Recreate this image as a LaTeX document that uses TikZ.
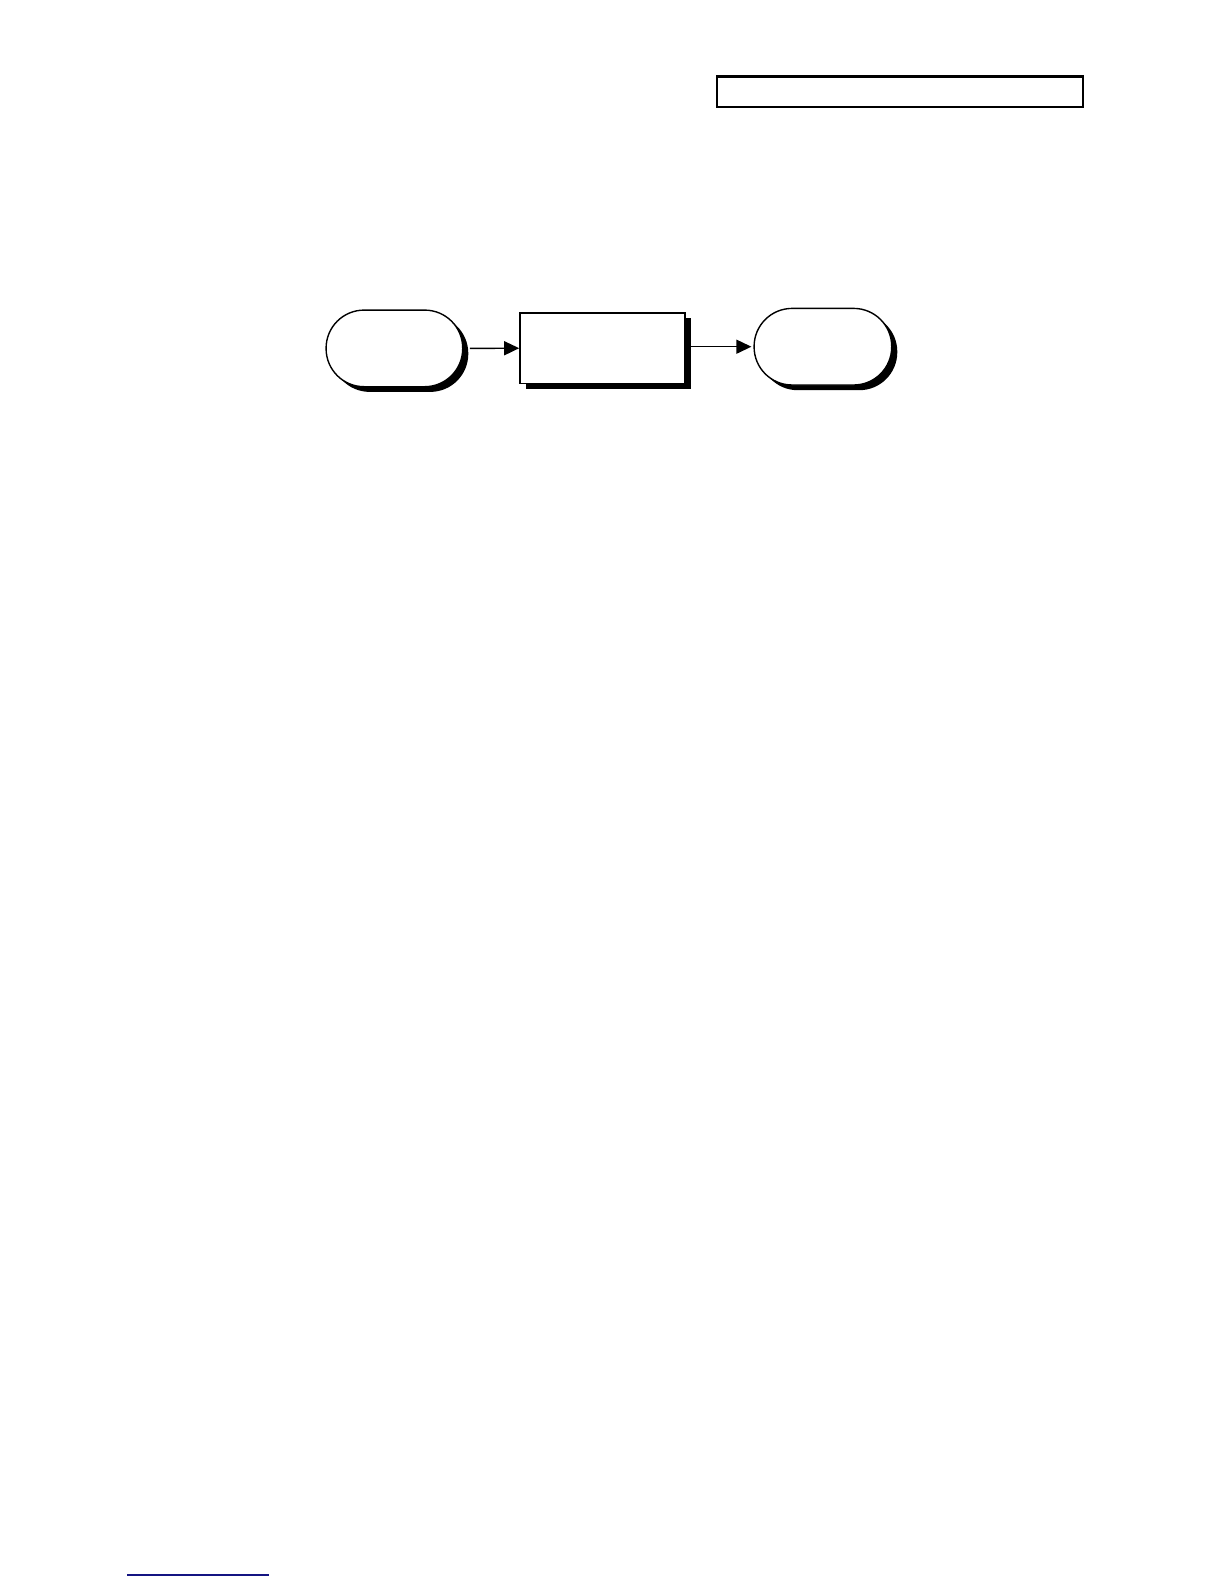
\documentclass[tikz,border=0pt]{standalone}
\usetikzlibrary{shadows,arrows.meta}
\definecolor{navy}{RGB}{20,20,130}
\tikzset{
  shd/.style={drop shadow={shadow xshift=2.8pt,shadow yshift=-2.6pt,fill=black,opacity=1}},
  term/.style={draw,line width=0.7pt,fill=white,rounded corners=19pt,shd,inner sep=0pt},
  procbox/.style={draw,line width=0.8pt,fill=white,shd,inner sep=0pt},
  conn/.style={line width=0.7pt,-{Triangle[length=7.5pt,width=7pt]}}
}
\begin{document}
\begin{tikzpicture}[x=0.5pt,y=-0.5pt]
\useasboundingbox (0,0) rectangle (1224,1584);
\node[draw,line width=1.4pt,minimum width=183pt,minimum height=15.2pt,inner sep=0pt] (top) at (900,91.8) {};
\node[term,minimum width=68.3pt,minimum height=38.3pt] (a) at (394.4,348.4) {};
\node[procbox,minimum width=82.5pt,minimum height=35.2pt] (b) at (602.5,348.2) {};
\node[term,minimum width=68.8pt,minimum height=38.3pt] (c) at (822.9,346.7) {};
\draw[conn] ([xshift=3.2pt]a.east) -- (b.west);
\draw[conn] ([xshift=2pt]b.east |- c.west) -- ([xshift=-1pt]c.west);
\coordinate (l1) at (127,1575);
\coordinate (l2) at (269,1575);
\draw[navy,line width=0.8pt] (l1) -- (l2);
\end{tikzpicture}
\end{document}
